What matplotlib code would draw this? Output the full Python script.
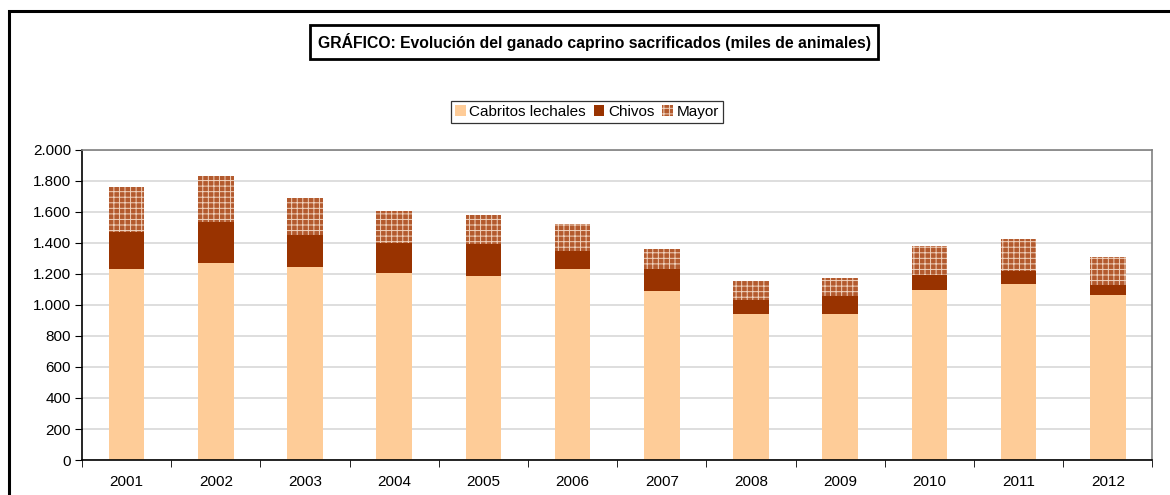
"""Evolución del ganado caprino sacrificado (miles de animales), 2001-2012 — stacked bars."""

import matplotlib.pyplot as plt
import numpy as np
from matplotlib.patches import Rectangle
from matplotlib.ticker import FuncFormatter, MultipleLocator

YEARS = ["2001", "2002", "2003", "2004", "2005", "2006",
         "2007", "2008", "2009", "2010", "2011", "2012"]
CABRITOS = [1232, 1271, 1245, 1206, 1187, 1232, 1090, 942, 942, 1097, 1135, 1065]
CHIVOS = [239, 266, 209, 194, 209, 118, 142, 90, 116, 97, 86, 64]
MAYOR = [290, 295, 236, 206, 185, 173, 129, 123, 116, 187, 205, 181]

C_CABRITOS = "#fecc98"
C_CHIVOS = "#993300"
C_MAYOR = "#b35a2e"

plt.rcParams.update({
    "font.family": ["Liberation Sans", "DejaVu Sans"],
    "font.size": 11,
    "hatch.linewidth": 0.7,
})

fig = plt.figure(figsize=(11.7, 4.95), dpi=100)
ax = fig.add_axes([0.0701, 0.0707, 0.9149, 0.6263])

x = np.arange(len(YEARS))
w = 0.40
cab = np.array(CABRITOS)
chi = np.array(CHIVOS)
may = np.array(MAYOR)

ax.bar(x, cab, w, color=C_CABRITOS, label="Cabritos lechales", zorder=2)
ax.bar(x, chi, w, bottom=cab, color=C_CHIVOS, label="Chivos", zorder=2)
ax.bar(x, may, w, bottom=cab + chi, facecolor=C_MAYOR, edgecolor="#f0d2bd",
       hatch="+++", linewidth=0, label="Mayor", zorder=2)

ax.set_xlim(-0.5, len(YEARS) - 0.5)
ax.set_ylim(0, 2000)
ax.yaxis.set_major_locator(MultipleLocator(200))
ax.yaxis.set_major_formatter(FuncFormatter(lambda v, _: f"{int(v):,}".replace(",", ".")))
ax.set_xticks(x)
ax.set_xticklabels(YEARS)
ax.set_xticks(np.arange(-0.5, len(YEARS)), minor=True)
ax.tick_params(axis="x", which="major", length=0, pad=11)
ax.tick_params(axis="x", which="minor", length=5, color="black", direction="out")
ax.tick_params(axis="y", length=5, direction="out", pad=3)

ax.grid(True, axis="y", color="#d4d4d4", linewidth=1.1, zorder=0)
ax.set_axisbelow(True)
for side in ("top", "right"):
    ax.spines[side].set_color("#808080")
    ax.spines[side].set_linewidth(1.2)
for side in ("left", "bottom"):
    ax.spines[side].set_color("black")
    ax.spines[side].set_linewidth(1.2)

leg = ax.legend(loc="center", bbox_to_anchor=(587 / 1170, 1 - 112 / 495),
                bbox_transform=fig.transFigure, ncol=3, frameon=True, fancybox=False,
                handlelength=0.7, handleheight=0.7, handletextpad=0.25, columnspacing=0.5,
                borderpad=0.25, borderaxespad=0, fontsize=11)
leg.get_frame().set_edgecolor("black")
leg.get_frame().set_linewidth(0.9)

fig.text(594 / 1170, 1 - 42 / 495,
         "GRÁFICO: Evolución del ganado caprino sacrificados (miles de animales)",
         ha="center", va="center", fontsize=11.3, fontweight="bold",
         bbox=dict(boxstyle="square,pad=0.5", facecolor="white", edgecolor="black", linewidth=2))

# outer chart border, running off the right and bottom edges
fig.patches.append(Rectangle((9 / 1170, -0.1), 1.2, 1 - 11 / 495 + 0.1,
                             transform=fig.transFigure, fill=False,
                             edgecolor="black", linewidth=2.2, clip_on=False))

fig.savefig("out.png", dpi=100)
